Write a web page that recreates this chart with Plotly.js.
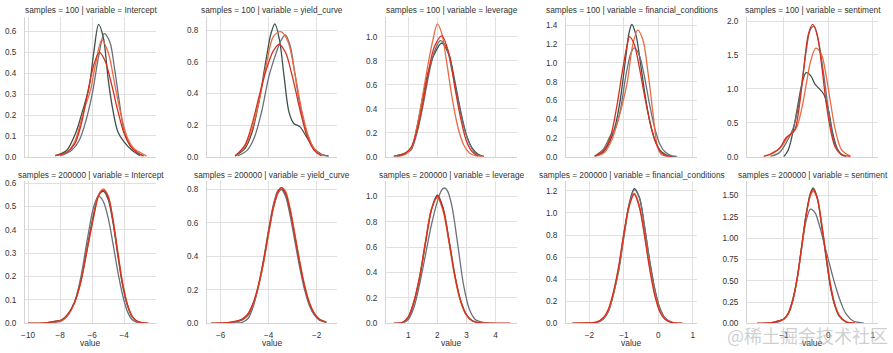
<!DOCTYPE html>
<html><head><meta charset="utf-8">
<script src="https://cdn.plot.ly/plotly-3.0.1.min.js"></script>
<style>html,body{margin:0;padding:0;background:#fff}#chart{width:893px;height:353px}</style>
</head><body><div id="chart"></div>
<script>
// ---- facets / labels ----
const variables = ['Intercept','yield_curve','leverage','financial_conditions','sentiment'];
const sampleSizes = [100, 200000];
const chains = ['A','B','C','D'];
const xTickVals = [[-10,-8,-6,-4],[-6,-4,-2],[1,2,3,4],[-2,-1,0,1],[-1,0,1]];
const yTickStepTop = [0.1,0.2,0.2,0.2,0.5];
const yTickStepBottom = [0.1,0.2,0.2,0.2,0.25];

// ---- samples = 100 ----
// Intercept
const t1A_x = [-8.3,-7.6,-7.0,-6.6,-6.2,-5.9,-5.6,-5.3,-5.0,-4.7,-4.4,-4.0,-3.5,-3.0];
const t1A_y = [0.005,0.03,0.12,0.22,0.33,0.50,0.635,0.57,0.37,0.22,0.12,0.07,0.03,0.005];
const t1B_x = [-8.0,-7.3,-6.8,-6.4,-6.0,-5.6,-5.25,-4.9,-4.6,-4.3,-4.0,-3.6,-3.2,-2.8];
const t1B_y = [0.005,0.03,0.08,0.17,0.30,0.48,0.59,0.55,0.42,0.26,0.12,0.05,0.02,0.003];
const t1C_x = [-8.3,-7.6,-7.1,-6.7,-6.4,-6.1,-5.8,-5.4,-5.0,-4.6,-4.2,-3.8,-3.4,-3.0,-2.6];
const t1C_y = [0.005,0.02,0.07,0.17,0.25,0.32,0.44,0.56,0.50,0.35,0.20,0.09,0.04,0.02,0.003];
const t1D_x = [-8.3,-7.6,-7.1,-6.7,-6.3,-5.9,-5.55,-5.2,-4.8,-4.4,-4.0,-3.6,-3.2,-2.8];
const t1D_y = [0.005,0.02,0.06,0.15,0.30,0.44,0.50,0.46,0.35,0.22,0.11,0.05,0.02,0.004];
// yield_curve
const t2A_x = [-5.4,-5.0,-4.7,-4.4,-4.1,-3.9,-3.74,-3.55,-3.35,-3.15,-2.95,-2.7,-2.4,-2.1,-1.8,-1.5];
const t2A_y = [0.005,0.05,0.15,0.35,0.62,0.78,0.84,0.74,0.50,0.28,0.21,0.19,0.12,0.05,0.015,0.003];
const t2B_x = [-5.3,-4.9,-4.6,-4.3,-4.0,-3.7,-3.5,-3.3,-3.1,-2.9,-2.7,-2.4,-2.1,-1.8,-1.5];
const t2B_y = [0.005,0.04,0.12,0.28,0.50,0.65,0.73,0.77,0.70,0.52,0.33,0.15,0.05,0.015,0.003];
const t2C_x = [-5.4,-5.0,-4.7,-4.4,-4.1,-3.8,-3.5,-3.2,-2.9,-2.6,-2.3,-2.0,-1.7];
const t2C_y = [0.005,0.06,0.17,0.35,0.58,0.76,0.79,0.73,0.52,0.28,0.11,0.03,0.005];
const t2D_x = [-5.4,-5.0,-4.7,-4.4,-4.1,-3.8,-3.57,-3.3,-3.0,-2.7,-2.4,-2.1,-1.8];
const t2D_y = [0.005,0.07,0.20,0.38,0.55,0.67,0.71,0.66,0.50,0.30,0.13,0.04,0.005];
// leverage
const t3A_x = [0.5,0.9,1.1,1.3,1.5,1.7,1.9,2.15,2.4,2.6,2.8,3.0,3.2,3.4,3.6];
const t3A_y = [0.003,0.03,0.06,0.25,0.50,0.72,0.86,0.95,0.85,0.63,0.38,0.18,0.07,0.02,0.003];
const t3B_x = [0.5,0.9,1.1,1.3,1.5,1.7,1.9,2.1,2.3,2.5,2.7,2.9,3.1,3.3,3.5];
const t3B_y = [0.003,0.03,0.06,0.20,0.42,0.68,0.88,0.97,0.92,0.72,0.48,0.26,0.11,0.03,0.005];
const t3C_x = [0.6,0.9,1.1,1.3,1.5,1.7,1.85,2.0,2.15,2.3,2.5,2.7,2.9,3.1,3.3,3.6];
const t3C_y = [0.003,0.02,0.07,0.25,0.52,0.80,0.98,1.11,1.03,0.82,0.50,0.25,0.10,0.03,0.008,0.001];
const t3D_x = [0.6,0.9,1.1,1.3,1.5,1.7,1.9,2.15,2.4,2.6,2.8,3.0,3.2,3.4];
const t3D_y = [0.003,0.03,0.08,0.22,0.45,0.72,0.92,1.01,0.86,0.58,0.32,0.13,0.04,0.005];
// financial_conditions
const t4A_x = [-1.85,-1.6,-1.4,-1.25,-1.1,-0.95,-0.85,-0.77,-0.65,-0.5,-0.35,-0.2,-0.05,0.1,0.3,0.5];
const t4A_y = [0.005,0.05,0.17,0.33,0.62,1.05,1.32,1.41,1.30,0.95,0.58,0.30,0.13,0.05,0.01,0.002];
const t4B_x = [-1.85,-1.6,-1.4,-1.25,-1.1,-0.95,-0.8,-0.7,-0.55,-0.4,-0.25,-0.1,0.05,0.2,0.4,0.55];
const t4B_y = [0.005,0.08,0.22,0.30,0.50,0.85,1.10,1.16,1.08,0.85,0.55,0.30,0.13,0.05,0.01,0.002];
const t4C_x = [-1.8,-1.55,-1.35,-1.2,-1.05,-0.9,-0.75,-0.6,-0.45,-0.3,-0.15,-0.02,0.1,0.3];
const t4C_y = [0.005,0.05,0.18,0.35,0.55,0.80,1.18,1.35,1.25,0.90,0.45,0.10,0.02,0.002];
const t4D_x = [-1.85,-1.6,-1.4,-1.2,-1.05,-0.9,-0.84,-0.7,-0.55,-0.4,-0.25,-0.1,0.05,0.2,0.4];
const t4D_y = [0.005,0.06,0.20,0.55,0.90,1.20,1.28,1.20,0.95,0.65,0.38,0.18,0.06,0.015,0.002];
// sentiment
const t5A_x = [-1.0,-0.9,-0.8,-0.7,-0.6,-0.5,-0.4,-0.3,-0.2,-0.1,0.0,0.1,0.2,0.3,0.4];
const t5A_y = [0.0,0.10,0.35,0.70,1.05,1.24,1.20,1.07,1.00,0.92,0.70,0.35,0.12,0.03,0.005];
const t5B_x = [-1.3,-1.1,-0.95,-0.8,-0.7,-0.6,-0.5,-0.4,-0.32,-0.22,-0.1,0.0,0.1,0.2,0.35];
const t5B_y = [0.005,0.06,0.20,0.40,0.65,1.05,1.55,1.88,1.92,1.70,1.20,0.70,0.30,0.10,0.01];
const t5C_x = [-1.45,-1.25,-1.05,-0.9,-0.8,-0.7,-0.6,-0.5,-0.4,-0.28,-0.15,-0.05,0.05,0.15,0.3,0.5];
const t5C_y = [0.005,0.05,0.15,0.30,0.35,0.45,0.70,1.05,1.40,1.60,1.50,1.20,0.80,0.42,0.10,0.005];
const t5D_x = [-1.45,-1.3,-1.1,-0.95,-0.85,-0.75,-0.65,-0.55,-0.45,-0.35,-0.25,-0.15,-0.05,0.05,0.15,0.3,0.5];
const t5D_y = [0.005,0.04,0.12,0.28,0.33,0.40,0.75,1.30,1.80,1.95,1.80,1.35,0.80,0.40,0.15,0.03,0.003];

// ---- samples = 200000 ----
// Intercept
const b1_x  = [-10,-9,-8.3,-7.9,-7.5,-7.1,-6.7,-6.3,-5.9,-5.6,-5.3,-5.0,-4.7,-4.4,-4.1,-3.8,-3.5,-3.2,-2.8,-2.5];
const b1A_y = [0,0.001,0.009,0.014,0.04,0.09,0.185,0.33,0.47,0.55,0.565,0.53,0.43,0.29,0.16,0.075,0.027,0.008,0.001,0];
const b1B_y = [0,0.001,0.004,0.01,0.035,0.09,0.2,0.36,0.5,0.545,0.52,0.45,0.34,0.22,0.12,0.05,0.015,0.004,0,0];
const b1C_y = [0,0.001,0.007,0.013,0.038,0.088,0.18,0.32,0.46,0.55,0.575,0.545,0.445,0.305,0.17,0.08,0.028,0.008,0.001,0];
const b1D_y = [0,0.001,0.008,0.015,0.04,0.09,0.18,0.32,0.46,0.545,0.57,0.54,0.44,0.30,0.17,0.08,0.03,0.01,0.002,0];
// yield_curve
const b2_x  = [-6.4,-5.8,-5.4,-5.1,-4.85,-4.6,-4.4,-4.2,-4.0,-3.8,-3.6,-3.47,-3.3,-3.1,-2.9,-2.7,-2.5,-2.3,-2.1,-1.9,-1.6];
const b2A_y = [0,0.002,0.008,0.02,0.05,0.13,0.235,0.375,0.54,0.69,0.78,0.80,0.775,0.67,0.515,0.355,0.215,0.115,0.056,0.024,0.006];
const b2B_y = [0,0,0.002,0.006,0.03,0.12,0.24,0.39,0.56,0.71,0.795,0.80,0.76,0.64,0.485,0.33,0.2,0.105,0.05,0.02,0.005];
const b2C_y = [0,0.003,0.011,0.024,0.058,0.135,0.235,0.37,0.535,0.69,0.785,0.81,0.79,0.685,0.53,0.37,0.23,0.125,0.062,0.027,0.007];
const b2D_y = [0,0.003,0.012,0.025,0.06,0.14,0.245,0.385,0.55,0.70,0.79,0.81,0.78,0.67,0.515,0.357,0.22,0.12,0.06,0.026,0.007];
// leverage
const b3_x  = [0.5,0.8,1.0,1.2,1.4,1.6,1.8,2.0,2.2,2.4,2.6,2.8,3.0,3.2,3.5,4.0,4.5];
const b3A_y = [0,0.005,0.045,0.17,0.37,0.645,0.9,1.01,0.905,0.655,0.38,0.178,0.066,0.02,0.003,0,0];
const b3C_y = [0,0.006,0.05,0.18,0.385,0.66,0.905,0.99,0.88,0.63,0.36,0.168,0.062,0.018,0.003,0,0];
const b3D_y = [0,0.006,0.05,0.177,0.376,0.649,0.896,1.0,0.896,0.649,0.376,0.177,0.066,0.02,0.003,0,0];
const b3B_x = [0.5,0.8,1.0,1.2,1.4,1.6,1.8,2.0,2.15,2.25,2.35,2.5,2.7,2.9,3.1,3.3,3.6,4.0];
const b3B_y = [0,0.004,0.03,0.13,0.32,0.55,0.78,0.96,1.05,1.065,1.04,0.92,0.62,0.30,0.11,0.03,0.005,0];
// financial_conditions
const b4_x  = [-2.5,-2.0,-1.8,-1.6,-1.45,-1.3,-1.15,-1.0,-0.85,-0.7,-0.55,-0.4,-0.25,-0.1,0.05,0.2,0.4,0.7];
const b4A_y = [0,0.003,0.008,0.04,0.11,0.27,0.49,0.80,1.08,1.22,1.14,0.87,0.56,0.30,0.13,0.045,0.008,0];
const b4B_y = [0,0.003,0.007,0.038,0.11,0.27,0.48,0.78,1.06,1.21,1.14,0.88,0.57,0.31,0.135,0.048,0.009,0];
const b4C_y = [0,0.004,0.009,0.045,0.12,0.28,0.51,0.81,1.06,1.18,1.07,0.81,0.51,0.27,0.11,0.04,0.007,0];
const b4D_y = [0,0.004,0.01,0.05,0.13,0.29,0.52,0.82,1.06,1.17,1.05,0.79,0.49,0.25,0.10,0.035,0.006,0];
// sentiment
const b5_x  = [-1.6,-1.3,-1.1,-1.0,-0.9,-0.8,-0.7,-0.6,-0.5,-0.4,-0.34,-0.25,-0.15,-0.05,0.05,0.15,0.25,0.4,0.6];
const b5A_y = [0,0.004,0.03,0.05,0.11,0.26,0.52,0.89,1.27,1.53,1.59,1.48,1.15,0.77,0.42,0.2,0.08,0.015,0.001];
const b5C_y = [0,0.004,0.028,0.048,0.11,0.26,0.52,0.88,1.25,1.50,1.55,1.47,1.18,0.81,0.46,0.22,0.09,0.017,0.001];
const b5D_y = [0,0.004,0.03,0.05,0.115,0.27,0.53,0.9,1.27,1.52,1.57,1.47,1.16,0.79,0.44,0.21,0.086,0.016,0.001];
const b5B_x = [-1.6,-1.3,-1.1,-1.0,-0.9,-0.8,-0.7,-0.6,-0.5,-0.4,-0.3,-0.2,-0.1,0.0,0.1,0.2,0.3,0.4,0.55,0.8];
const b5B_y = [0,0.003,0.02,0.05,0.12,0.28,0.52,0.88,1.20,1.34,1.30,1.15,0.95,0.75,0.55,0.37,0.22,0.11,0.03,0.002];

// table built from the arrays above: [row][col] -> list of [x, y] per chain A,B,C,D
const curves = [
  [
    [[t1A_x,t1A_y],[t1B_x,t1B_y],[t1C_x,t1C_y],[t1D_x,t1D_y]],
    [[t2A_x,t2A_y],[t2B_x,t2B_y],[t2C_x,t2C_y],[t2D_x,t2D_y]],
    [[t3A_x,t3A_y],[t3B_x,t3B_y],[t3C_x,t3C_y],[t3D_x,t3D_y]],
    [[t4A_x,t4A_y],[t4B_x,t4B_y],[t4C_x,t4C_y],[t4D_x,t4D_y]],
    [[t5A_x,t5A_y],[t5B_x,t5B_y],[t5C_x,t5C_y],[t5D_x,t5D_y]]
  ],
  [
    [[b1_x,b1A_y],[b1_x,b1B_y],[b1_x,b1C_y],[b1_x,b1D_y]],
    [[b2_x,b2A_y],[b2_x,b2B_y],[b2_x,b2C_y],[b2_x,b2D_y]],
    [[b3_x,b3A_y],[b3B_x,b3B_y],[b3_x,b3C_y],[b3_x,b3D_y]],
    [[b4_x,b4A_y],[b4_x,b4B_y],[b4_x,b4C_y],[b4_x,b4D_y]],
    [[b5_x,b5A_y],[b5B_x,b5B_y],[b5_x,b5C_y],[b5_x,b5D_y]]
  ]
];

// ---- styling / geometry ----
const W = 893, H = 353;
const colLeft  = [25, 207, 386, 566, 747];
const colRight = [156, 337, 517, 697, 878];
const rowPx = [[17, 156.7], [181, 323.3]];
const xRanges = [[-10.19,-2.02],[-6.57,-1.15],[0.234,4.735],[-2.683,1.125],[-1.827,1.117]];
const yRanges = [[[0,0.67],[0,0.883],[0,1.167],[0,1.49],[0,2.06]],
                 [[0,0.609],[0,0.85],[0,1.12],[0,1.29],[0,1.67]]];
const chainColors = ['#3e514c', '#6a7079', '#ea6b42', '#d53020'];
const FONT = 'Liberation Sans, Arial, sans-serif';
const txt = '#333333';
const grid = '#e0e0e0';

const traces = [];
const layout = {
  width: W, height: H, margin: {l:0, r:0, t:0, b:0},
  paper_bgcolor: '#ffffff', plot_bgcolor: '#ffffff',
  showlegend: false, annotations: [],
  font: {family: FONT, color: txt, size: 8.2}
};

for (let r = 0; r < 2; r++) {
  for (let c = 0; c < 5; c++) {
    const k = r * 5 + c + 1;
    const xs = k === 1 ? '' : String(k);
    curves[r][c].forEach((xy, i) => {
      traces.push({
        x: xy[0], y: xy[1], type: 'scatter', mode: 'lines',
        xaxis: 'x' + xs, yaxis: 'y' + xs, name: 'chain ' + chains[i],
        line: {color: chainColors[i], width: 1.3, shape: 'spline', smoothing: 0.9},
        hoverinfo: 'skip'
      });
    });
    const yd = [1 - rowPx[r][1] / H, 1 - rowPx[r][0] / H];
    layout['xaxis' + xs] = {
      domain: [colLeft[c] / W, colRight[c] / W], range: xRanges[c], anchor: 'y' + xs,
      tickmode: 'array', tickvals: xTickVals[c], showticklabels: r === 1,
      showgrid: true, gridcolor: grid, gridwidth: 1, zeroline: false,
      showline: true, linecolor: '#d4d4d4', linewidth: 1, ticks: '',
      ticklabelstandoff: 4, tickfont: {family: FONT, size: 8.2, color: txt},
      fixedrange: true
    };
    const step = r === 0 ? yTickStepTop[c] : yTickStepBottom[c];
    layout['yaxis' + xs] = {
      domain: yd, range: yRanges[r][c], anchor: 'x' + xs,
      tick0: 0, dtick: step, tickformat: (r === 1 && c === 4) ? '.2f' : '.1f',
      showgrid: true, gridcolor: grid, gridwidth: 1, zeroline: false,
      showline: true, linecolor: '#d4d4d4', linewidth: 1, ticks: '',
      ticklabelstandoff: 6, tickfont: {family: FONT, size: 8.2, color: txt},
      fixedrange: true
    };
    layout.annotations.push({
      xref: 'paper', yref: 'paper', x: (colLeft[c] + colRight[c]) / 2 / W,
      y: 1 - (r === 0 ? 10 : 174.5) / H, xanchor: 'center', yanchor: 'middle',
      text: 'samples = ' + sampleSizes[r] + ' | variable = ' + variables[c],
      showarrow: false, font: {family: FONT, size: 8.3, color: txt}
    });
    if (r === 1) {
      layout.annotations.push({
        xref: 'paper', yref: 'paper', x: (colLeft[c] + colRight[c]) / 2 / W,
        y: 1 - 343 / H, xanchor: 'center', yanchor: 'middle', text: 'value',
        showarrow: false, font: {family: FONT, size: 8.5, color: txt}
      });
    }
  }
}
// site watermark seen on the reference
layout.annotations.push({
  xref: 'paper', yref: 'paper', x: 890 / W, y: 1 - 335 / H, xanchor: 'right', yanchor: 'middle',
  text: '@稀土掘金技术社区', showarrow: false,
  font: {family: 'Noto Sans CJK SC, sans-serif', size: 18, color: 'rgba(175,175,175,0.6)'}
});

Plotly.newPlot('chart', traces, layout, {staticPlot: true, displayModeBar: false});
</script>
</body></html>
